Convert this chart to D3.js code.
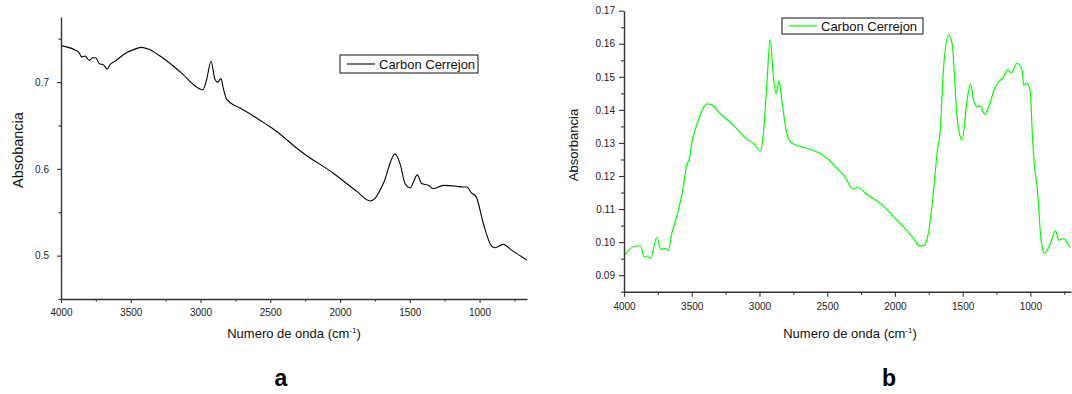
<!DOCTYPE html>
<html lang="es">
<head>
    <meta charset="UTF-8"/>
    <title>Carbon Cerrejon - FTIR</title>
    <script src="https://d3js.org/d3.v7.min.js"></script>
    <style>
        body { margin: 0; background: #fff; }
        svg { display: block; font-family: "Liberation Sans", Arial, sans-serif; }
        .axis path, .axis line { stroke: #333; }
        .axis text { fill: #222; font-size: 10px; }
    </style>
</head>
<body>
<script>
    // ---- data ----
    var legendLabel = "Carbon Cerrejon";
    var xMajorTicks = [4000, 3500, 3000, 2500, 2000, 1500, 1000];
    var xMinorTicks = [3750, 3250, 2750, 2250, 1750, 1250, 750];

    // panel a (black)
    var aWn = [4000, 3900, 3871, 3852, 3828, 3797, 3773, 3751, 3725, 3697, 3668, 3649, 3613, 3529, 3470, 3422,
               3374, 3290, 3147, 3004, 2984, 2956, 2925, 2896, 2877, 2853, 2837, 2812, 2741, 2717, 2574, 2526,
               2478, 2311, 2263, 2048, 1880, 1785, 1749, 1690, 1606, 1570, 1534, 1498, 1446, 1415, 1367, 1331,
               1260, 1164, 1116, 1092, 1056, 1025, 973, 925, 889, 830, 769, 710, 662];
    var aAbs = [0.742, 0.737, 0.734, 0.729, 0.730, 0.725, 0.728, 0.728, 0.721, 0.720, 0.715, 0.720, 0.724, 0.734, 0.738, 0.740,
                0.738, 0.730, 0.712, 0.692, 0.691, 0.703, 0.724, 0.703, 0.700, 0.704, 0.693, 0.680, 0.672, 0.670, 0.656, 0.651,
                0.646, 0.624, 0.618, 0.595, 0.574, 0.563, 0.566, 0.583, 0.617, 0.606, 0.583, 0.578, 0.593, 0.583, 0.581, 0.577,
                0.581, 0.580, 0.579, 0.579, 0.572, 0.568, 0.537, 0.514, 0.509, 0.513, 0.506, 0.500, 0.495];
    var aYMajor = [0.5, 0.6, 0.7];
    var aYMinor = [0.45, 0.55, 0.65, 0.75];

    // panel b (green)
    var bWn = [4000, 3931, 3877, 3852, 3832, 3803, 3758, 3729, 3697, 3673, 3647, 3611, 3562, 3542, 3512, 3500,
               3475, 3438, 3389, 3352, 3291, 3192, 3093, 3044, 2995, 2971, 2945, 2921, 2897, 2877, 2855, 2835,
               2798, 2759, 2650, 2552, 2490, 2416, 2379, 2305, 2276, 2206, 2084, 2010, 1936, 1862, 1818, 1783,
               1751, 1714, 1689, 1665, 1640, 1603, 1578, 1541, 1504, 1467, 1443, 1419, 1394, 1370, 1337, 1308,
               1258, 1197, 1167, 1140, 1098, 1061, 1049, 1024, 1000, 987, 968, 950, 921, 896, 852, 815,
               790, 753, 728, 704];
    var bAbs = [0.0958, 0.0986, 0.0989, 0.0955, 0.0958, 0.0951, 0.1014, 0.0978, 0.0981, 0.0974, 0.1026, 0.1077, 0.1167, 0.1223, 0.1263, 0.1299,
                0.1339, 0.1384, 0.1418, 0.1415, 0.1389, 0.1354, 0.1311, 0.1299, 0.1276, 0.1329, 0.1480, 0.1613, 0.1500, 0.1448, 0.1488, 0.1430,
                0.1329, 0.1299, 0.1284, 0.1268, 0.1250, 0.1218, 0.1203, 0.1160, 0.1166, 0.1144, 0.1109, 0.1077, 0.1046, 0.1011, 0.0988, 0.0991,
                0.1031, 0.1157, 0.1268, 0.1339, 0.1531, 0.1626, 0.1601, 0.1379, 0.1309, 0.1430, 0.1478, 0.1430, 0.1409, 0.1412, 0.1387, 0.1409,
                0.1470, 0.1500, 0.1521, 0.1512, 0.1541, 0.1521, 0.1475, 0.1480, 0.1455, 0.1339, 0.1223, 0.1167, 0.1006, 0.0966, 0.0996, 0.1034,
                0.1006, 0.1011, 0.0996, 0.0984];
    var bYMajor = [0.09, 0.10, 0.11, 0.12, 0.13, 0.14, 0.15, 0.16, 0.17];
    var bYMinor = [0.085, 0.095, 0.105, 0.115, 0.125, 0.135, 0.145, 0.155, 0.165];

    var svg = d3.select("body").append("svg")
        .attr("width", 1072)
        .attr("height", 394);

    function drawPanel(opt) {
        var x = d3.scaleLinear().domain(opt.xDomain).range([opt.left, opt.right]);
        var y = d3.scaleLinear().domain(opt.yDomain).range([opt.bottom, opt.top]);
        var g = svg.append("g");

        // clip
        g.append("clipPath").attr("id", opt.id + "-clip")
            .append("rect")
            .attr("x", opt.left).attr("y", opt.top)
            .attr("width", opt.right - opt.left).attr("height", opt.bottom - opt.top);

        var pts = opt.wn.map(function(d, i) { return [d, opt.abs[i]]; });
        var line = d3.line()
            .x(function(d) { return x(d[0]); })
            .y(function(d) { return y(d[1]); })
            .curve(opt.curve);

        g.append("path")
            .datum(pts)
            .attr("clip-path", "url(#" + opt.id + "-clip)")
            .attr("fill", "none")
            .attr("stroke", opt.color)
            .attr("stroke-width", opt.lineWidth)
            .attr("stroke-linejoin", "round")
            .attr("d", line);

        // minor ticks first
        g.append("g").attr("class", "axis")
            .attr("transform", "translate(0," + opt.bottom + ")")
            .call(d3.axisBottom(x).tickValues(xMinorTicks).tickSize(opt.minorTick).tickFormat(""))
            .call(function(s) { s.select(".domain").remove(); });
        g.append("g").attr("class", "axis")
            .attr("transform", "translate(" + opt.left + ",0)")
            .call(d3.axisLeft(y).tickValues(opt.yMinor).tickSize(opt.minorTick).tickFormat(""))
            .call(function(s) { s.select(".domain").remove(); });

        g.append("g").attr("class", "axis")
            .attr("transform", "translate(0," + opt.bottom + ")")
            .call(d3.axisBottom(x).tickValues(xMajorTicks).tickSize(opt.majorTick).tickSizeOuter(0)
                .tickPadding(6).tickFormat(d3.format("d")));
        g.append("g").attr("class", "axis")
            .attr("transform", "translate(" + opt.left + ",0)")
            .call(d3.axisLeft(y).tickValues(opt.yMajor).tickSize(opt.majorTick).tickSizeOuter(0)
                .tickPadding(opt.yPad).tickFormat(d3.format(opt.yFmt)));
        g.selectAll(".axis .domain").attr("stroke-width", 1.4);
        g.selectAll(".axis line").attr("stroke-width", 1.1);

        // axis titles
        var xt = g.append("text")
            .attr("x", opt.xTitleX).attr("y", 338)
            .attr("text-anchor", "middle")
            .attr("font-size", 13)
            .attr("fill", "#111");
        xt.append("tspan").text("Numero de onda (cm");
        xt.append("tspan").attr("font-size", 8).attr("dy", -5).text("-1");
        xt.append("tspan").attr("dy", 5).text(")");

        g.append("text")
            .attr("transform", "translate(" + opt.yTitleX + "," + opt.yTitleY + ") rotate(-90)")
            .attr("text-anchor", "middle")
            .attr("font-size", opt.yTitleSize)
            .attr("fill", "#111")
            .text(opt.yTitle);

        // legend
        var lg = g.append("g").attr("transform", "translate(" + opt.legX + "," + opt.legY + ")");
        lg.append("rect")
            .attr("width", opt.legW).attr("height", opt.legH)
            .attr("fill", "#fff").attr("stroke", "#111").attr("stroke-width", 1);
        lg.append("line")
            .attr("x1", 7).attr("x2", 35)
            .attr("y1", opt.legH / 2).attr("y2", opt.legH / 2)
            .attr("stroke", opt.color).attr("stroke-width", opt.lineWidth);
        lg.append("text")
            .attr("x", 39).attr("y", opt.legH / 2 + 4.5)
            .attr("font-size", 13).attr("fill", "#111")
            .text(legendLabel);

        // panel letter
        g.append("text")
            .attr("x", opt.letterX).attr("y", 386)
            .attr("text-anchor", "middle")
            .attr("font-size", 23).attr("font-weight", "bold")
            .attr("fill", "#000")
            .text(opt.letter);
    }

    drawPanel({
        id: "a", wn: aWn, abs: aAbs, color: "#000", lineWidth: 1.1, curve: d3.curveMonotoneX,
        xDomain: [4000, 660], yDomain: [0.45, 0.775],
        left: 61, right: 527, top: 17, bottom: 299,
        yMajor: aYMajor, yMinor: aYMinor, yFmt: ".1f", yPad: 8,
        majorTick: 4, minorTick: 2.5,
        xTitleX: 294, yTitleX: 23, yTitleY: 150, yTitleSize: 14.5, yTitle: "Absobancia",
        legX: 340, legY: 55, legW: 138, legH: 18,
        letter: "a", letterX: 281
    });

    drawPanel({
        id: "b", wn: bWn, abs: bAbs, color: "#00ff00", lineWidth: 1.2, curve: d3.curveMonotoneX,
        xDomain: [4000, 700], yDomain: [0.085, 0.17],
        left: 624, right: 1071, top: 10.7, bottom: 291.7,
        yMajor: bYMajor, yMinor: bYMinor, yFmt: ".2f", yPad: 4,
        majorTick: 5, minorTick: 3,
        xTitleX: 850, yTitleX: 578, yTitleY: 145, yTitleSize: 13, yTitle: "Absorbancia",
        legX: 782, legY: 18, legW: 141, legH: 16,
        letter: "b", letterX: 889
    });
</script>
</body>
</html>
